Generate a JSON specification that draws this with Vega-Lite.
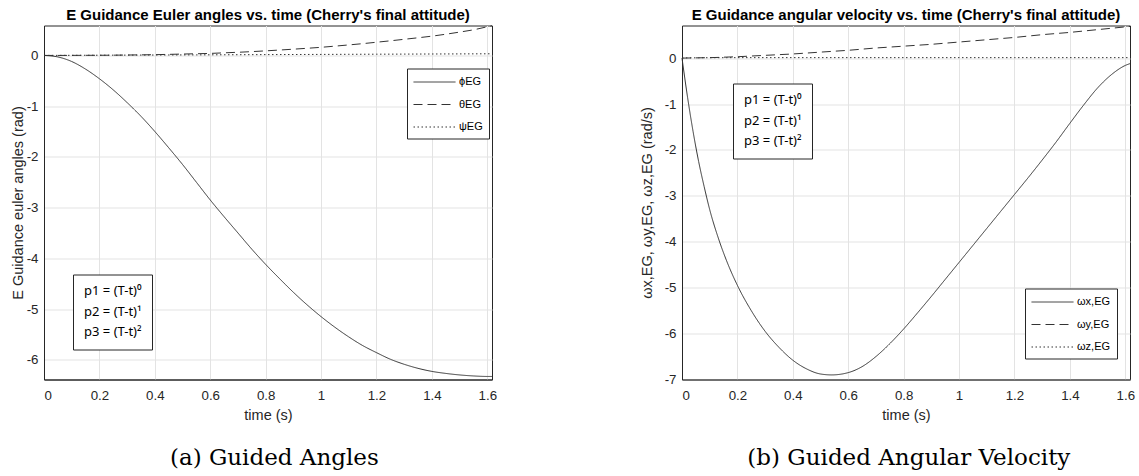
{
  "$schema": "https://vega.github.io/schema/vega-lite/v6.json",
  "padding": {"left": 9, "top": 6.5, "right": 0, "bottom": 0},
  "background": "white",
  "datasets": {
    "angles": [
      {"t": 0, "phi": 0, "theta": 0, "psi": 0},
      {"t": 0.05, "phi": -0.03, "theta": 0, "psi": 0.001},
      {"t": 0.1, "phi": -0.12, "theta": 0.001, "psi": 0.002},
      {"t": 0.15, "phi": -0.27, "theta": 0.002, "psi": 0.003},
      {"t": 0.2, "phi": -0.46, "theta": 0.003, "psi": 0.004},
      {"t": 0.25, "phi": -0.68, "theta": 0.005, "psi": 0.005},
      {"t": 0.3, "phi": -0.93, "theta": 0.008, "psi": 0.006},
      {"t": 0.35, "phi": -1.2, "theta": 0.011, "psi": 0.007},
      {"t": 0.4, "phi": -1.5, "theta": 0.015, "psi": 0.008},
      {"t": 0.45, "phi": -1.82, "theta": 0.021, "psi": 0.009},
      {"t": 0.5, "phi": -2.15, "theta": 0.027, "psi": 0.01},
      {"t": 0.55, "phi": -2.5, "theta": 0.033, "psi": 0.011},
      {"t": 0.6, "phi": -2.85, "theta": 0.04, "psi": 0.012},
      {"t": 0.65, "phi": -3.18, "theta": 0.051, "psi": 0.013},
      {"t": 0.7, "phi": -3.5, "theta": 0.062, "psi": 0.014},
      {"t": 0.75, "phi": -3.82, "theta": 0.075, "psi": 0.015},
      {"t": 0.8, "phi": -4.12, "theta": 0.09, "psi": 0.016},
      {"t": 0.85, "phi": -4.4, "theta": 0.106, "psi": 0.017},
      {"t": 0.9, "phi": -4.67, "theta": 0.123, "psi": 0.018},
      {"t": 0.95, "phi": -4.92, "theta": 0.141, "psi": 0.019},
      {"t": 1.0, "phi": -5.15, "theta": 0.16, "psi": 0.02},
      {"t": 1.05, "phi": -5.36, "theta": 0.183, "psi": 0.021},
      {"t": 1.1, "phi": -5.55, "theta": 0.207, "psi": 0.022},
      {"t": 1.15, "phi": -5.72, "theta": 0.232, "psi": 0.023},
      {"t": 1.2, "phi": -5.86, "theta": 0.26, "psi": 0.024},
      {"t": 1.25, "phi": -5.99, "theta": 0.288, "psi": 0.025},
      {"t": 1.3, "phi": -6.09, "theta": 0.318, "psi": 0.026},
      {"t": 1.35, "phi": -6.17, "theta": 0.348, "psi": 0.027},
      {"t": 1.4, "phi": -6.23, "theta": 0.38, "psi": 0.028},
      {"t": 1.45, "phi": -6.27, "theta": 0.418, "psi": 0.029},
      {"t": 1.5, "phi": -6.3, "theta": 0.46, "psi": 0.03},
      {"t": 1.55, "phi": -6.32, "theta": 0.505, "psi": 0.031},
      {"t": 1.6, "phi": -6.33, "theta": 0.565, "psi": 0.032},
      {"t": 1.617, "phi": -6.33, "theta": 0.585, "psi": 0.032}
    ],
    "rates": [
      {"t": 0, "wx": 0, "wy": 0, "wz": 0},
      {"t": 0.02, "wx": -0.85, "wy": 0.002, "wz": 0.005},
      {"t": 0.04, "wx": -1.6, "wy": 0.004, "wz": 0.006},
      {"t": 0.06, "wx": -2.25, "wy": 0.006, "wz": 0.007},
      {"t": 0.08, "wx": -2.8, "wy": 0.008, "wz": 0.008},
      {"t": 0.1, "wx": -3.3, "wy": 0.01, "wz": 0.008},
      {"t": 0.13, "wx": -3.9, "wy": 0.015, "wz": 0.009},
      {"t": 0.16, "wx": -4.4, "wy": 0.022, "wz": 0.009},
      {"t": 0.2, "wx": -4.95, "wy": 0.03, "wz": 0.01},
      {"t": 0.25, "wx": -5.5, "wy": 0.045, "wz": 0.01},
      {"t": 0.3, "wx": -5.95, "wy": 0.06, "wz": 0.01},
      {"t": 0.35, "wx": -6.3, "wy": 0.075, "wz": 0.01},
      {"t": 0.4, "wx": -6.58, "wy": 0.09, "wz": 0.01},
      {"t": 0.45, "wx": -6.77, "wy": 0.11, "wz": 0.01},
      {"t": 0.5, "wx": -6.88, "wy": 0.13, "wz": 0.01},
      {"t": 0.54, "wx": -6.9, "wy": 0.146, "wz": 0.01},
      {"t": 0.6, "wx": -6.85, "wy": 0.17, "wz": 0.01},
      {"t": 0.65, "wx": -6.72, "wy": 0.195, "wz": 0.01},
      {"t": 0.7, "wx": -6.5, "wy": 0.22, "wz": 0.01},
      {"t": 0.75, "wx": -6.22, "wy": 0.24, "wz": 0.01},
      {"t": 0.8, "wx": -5.9, "wy": 0.26, "wz": 0.01},
      {"t": 0.85, "wx": -5.55, "wy": 0.28, "wz": 0.01},
      {"t": 0.9, "wx": -5.19, "wy": 0.3, "wz": 0.01},
      {"t": 0.95, "wx": -4.82, "wy": 0.325, "wz": 0.01},
      {"t": 1.0, "wx": -4.45, "wy": 0.35, "wz": 0.01},
      {"t": 1.05, "wx": -4.08, "wy": 0.375, "wz": 0.01},
      {"t": 1.1, "wx": -3.71, "wy": 0.4, "wz": 0.01},
      {"t": 1.15, "wx": -3.34, "wy": 0.425, "wz": 0.01},
      {"t": 1.2, "wx": -2.97, "wy": 0.45, "wz": 0.01},
      {"t": 1.25, "wx": -2.6, "wy": 0.48, "wz": 0.01},
      {"t": 1.3, "wx": -2.22, "wy": 0.51, "wz": 0.01},
      {"t": 1.35, "wx": -1.83, "wy": 0.535, "wz": 0.01},
      {"t": 1.4, "wx": -1.42, "wy": 0.56, "wz": 0.01},
      {"t": 1.45, "wx": -1.02, "wy": 0.59, "wz": 0.01},
      {"t": 1.5, "wx": -0.65, "wy": 0.62, "wz": 0.01},
      {"t": 1.55, "wx": -0.36, "wy": 0.65, "wz": 0.01},
      {"t": 1.6, "wx": -0.16, "wy": 0.68, "wz": 0.01},
      {"t": 1.617, "wx": -0.12, "wy": 0.69, "wz": 0.01}
    ],
    "pbox": [
      {"p": "p1 = (T-t)⁰"},
      {"p": "p2 = (T-t)¹"},
      {"p": "p3 = (T-t)²"}
    ]
  },
  "config": {
    "font": "Liberation Sans",
    "view": {"stroke": "#262626", "strokeWidth": 1},
    "axis": {
      "domainColor": "#262626",
      "tickColor": "#262626",
      "labelColor": "#262626",
      "titleColor": "#262626",
      "labelFontSize": 13.3,
      "titleFontSize": 14.5,
      "titleFontWeight": "normal",
      "gridColor": "#e3e3e3",
      "tickSize": 0,
      "labelFont": "Liberation Sans",
      "titleFont": "Liberation Sans"
    },
    "axisX": {"labelPadding": 9, "titlePadding": 7},
    "axisY": {"labelPadding": 6},
    "title": {"font": "Liberation Sans", "fontSize": 15, "fontWeight": "bold", "color": "black", "offset": 1},
    "legend": {
      "strokeColor": "#262626",
      "fillColor": "white",
      "labelFont": "Liberation Sans",
      "labelFontSize": 12,
      "labelColor": "black",
      "title": null
    }
  },
  "resolve": {
    "scale": {"strokeDash": "independent", "color": "independent"},
    "legend": {"strokeDash": "independent", "color": "independent"}
  },
  "spacing": 140,
  "hconcat": [
    {
      "title": {"text": "(a) Guided Angles", "orient": "bottom", "font": "DejaVu Serif", "fontSize": 23, "fontWeight": "normal", "color": "black", "offset": 24, "anchor": "middle", "dx": 21},
      "vconcat": [
        {
          "title": "E Guidance Euler angles vs. time (Cherry's final attitude)",
          "width": 448,
          "height": 354,
          "layer": [
            {
              "data": {"name": "angles"},
              "transform": [{"fold": ["phi", "theta", "psi"], "as": ["series", "value"]}],
              "mark": {"type": "line", "color": "#333333", "strokeWidth": 1, "interpolate": "monotone"},
              "encoding": {
                "x": {"field": "t", "type": "quantitative", "scale": {"domain": [0, 1.617], "nice": false},
                  "axis": {"values": [0, 0.2, 0.4, 0.6, 0.8, 1, 1.2, 1.4, 1.6], "title": "time (s)",
                    "labelExpr": "datum.value < 0 ? '-' + format(-datum.value, '~g') : format(datum.value, '~g')"}},
                "y": {"field": "value", "type": "quantitative", "scale": {"domain": [-6.39, 0.59], "nice": false, "zero": false},
                  "axis": {"values": [-6, -5, -4, -3, -2, -1, 0], "title": "E Guidance euler angles (rad)", "titlePadding": 1,
                    "labelExpr": "datum.value < 0 ? '-' + format(-datum.value, '~g') : format(datum.value, '~g')"}},
                "strokeDash": {"field": "series", "type": "nominal",
                  "scale": {"domain": ["phi", "theta", "psi"], "range": [[1, 0], [9, 5], [1.5, 2.5]]},
                  "legend": {"orient": "none", "legendX": 363, "legendY": 43, "symbolType": "M-1,0H5", "symbolSize": 196,
                    "symbolStrokeColor": "#333333", "symbolFillColor": "transparent", "symbolStrokeWidth": 1, "padding": 6, "rowPadding": 9.5, "labelOffset": 31, "labelFontSize": 11,
                    "labelExpr": "datum.label == 'phi' ? 'ϕEG' : datum.label == 'theta' ? 'θEG' : 'ψEG'"}}
              }
            },
            {
              "data": {"name": "pbox"},
              "mark": {"type": "point", "opacity": 0},
              "encoding": {
                "x": {"datum": 0},
                "y": {"datum": 0},
                "color": {"field": "p", "type": "nominal", "sort": null,
                  "scale": {"range": ["white", "white", "white"]},
                  "legend": {"orient": "none", "legendX": 29, "legendY": 249, "symbolSize": 1, "symbolOpacity": 0,
                    "symbolStrokeWidth": 0, "labelOffset": -12, "padding": 10, "rowPadding": 6.5, "labelFontSize": 13, "labelFont": "Noto Sans"}}
              }
            }
          ]
        }
      ]
    },
    {
      "title": {"text": "(b) Guided Angular Velocity", "orient": "bottom", "font": "DejaVu Serif", "fontSize": 23, "fontWeight": "normal", "color": "black", "offset": 24, "anchor": "middle", "dx": 22},
      "vconcat": [
        {
          "title": "E Guidance angular velocity vs. time (Cherry's final attitude)",
          "width": 448,
          "height": 354,
          "layer": [
            {
              "data": {"name": "rates"},
              "transform": [{"fold": ["wx", "wy", "wz"], "as": ["series", "value"]}],
              "mark": {"type": "line", "color": "#333333", "strokeWidth": 1, "interpolate": "monotone"},
              "encoding": {
                "x": {"field": "t", "type": "quantitative", "scale": {"domain": [0, 1.617], "nice": false},
                  "axis": {"values": [0, 0.2, 0.4, 0.6, 0.8, 1, 1.2, 1.4, 1.6], "title": "time (s)",
                    "labelExpr": "datum.value < 0 ? '-' + format(-datum.value, '~g') : format(datum.value, '~g')"}},
                "y": {"field": "value", "type": "quantitative", "scale": {"domain": [-7, 0.71], "nice": false, "zero": false},
                  "axis": {"values": [-7, -6, -5, -4, -3, -2, -1, 0], "title": "ωx,EG, ωy,EG, ωz,EG (rad/s)", "titlePadding": 10,
                    "labelExpr": "datum.value < 0 ? '-' + format(-datum.value, '~g') : format(datum.value, '~g')"}},
                "strokeDash": {"field": "series", "type": "nominal",
                  "scale": {"domain": ["wx", "wy", "wz"], "range": [[1, 0], [9, 5], [1.5, 2.5]]},
                  "legend": {"orient": "none", "legendX": 343, "legendY": 263, "symbolType": "M-1,0H5", "symbolSize": 196,
                    "symbolStrokeColor": "#333333", "symbolFillColor": "transparent", "symbolStrokeWidth": 1, "padding": 6, "rowPadding": 9.5, "labelOffset": 31, "labelFontSize": 11,
                    "labelExpr": "datum.label == 'wx' ? 'ωx,EG' : datum.label == 'wy' ? 'ωy,EG' : 'ωz,EG'"}}
              }
            },
            {
              "data": {"name": "pbox"},
              "mark": {"type": "point", "opacity": 0},
              "encoding": {
                "x": {"datum": 0},
                "y": {"datum": 0},
                "color": {"field": "p", "type": "nominal", "sort": null,
                  "scale": {"range": ["white", "white", "white"]},
                  "legend": {"orient": "none", "legendX": 51, "legendY": 58, "symbolSize": 1, "symbolOpacity": 0,
                    "symbolStrokeWidth": 0, "labelOffset": -12, "padding": 10, "rowPadding": 6.5, "labelFontSize": 13, "labelFont": "Noto Sans"}}
              }
            }
          ]
        }
      ]
    }
  ]
}
